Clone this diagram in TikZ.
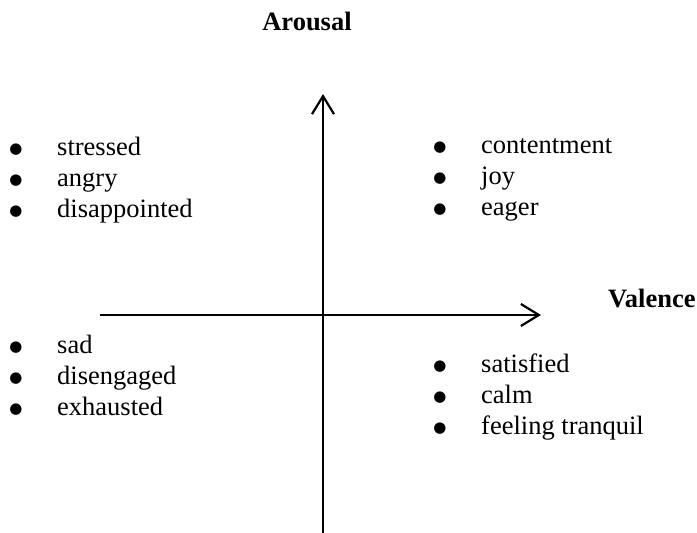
\documentclass[tikz,border=0pt]{standalone}
\usepackage{fontspec}
\setmainfont{Liberation Serif}
\newfontfamily\punktfont{DejaVu Sans}
\usetikzlibrary{arrows.meta}

\tikzset{
    achse/.style={line width=2.2pt, -{Straight Barb[length=18pt, width=22pt, line width=2.2pt]}},
    eintrag/.style={anchor=base west, inner sep=0pt, font=\fontsize{26.5}{31}\selectfont},
    punkt/.style={anchor=base, inner sep=0pt, font=\punktfont\fontsize{15}{15}\selectfont},
    titel/.style={anchor=base, inner sep=0pt, font=\fontsize{26.5}{31}\selectfont\bfseries},
}

\begin{document}
\begin{tikzpicture}[x=1pt, y=-1pt]
    \useasboundingbox (0,0) rectangle (697,533);

    % --- Achsen ---
    \coordinate (links) at (100,315);
    \coordinate (rechts) at (541,315);
    \coordinate (unten) at (323,533);
    \coordinate (oben) at (323,94);
    \draw[achse] (links) -- (rechts);
    \draw[achse] (unten) -- (oben);

    % Achsenbeschriftung
    \node[titel] (arousal) at (307,30) {Arousal};
    \node[titel, anchor=base west] (valence) at (608,307) {Valence};

    % --- Quadranten (Aufzaehlungspunkt links vom Wort) ---
    % oben links
    \foreach \wort [count=\i] in {stressed, angry, disappointed} {
        \node[eintrag] (ol-\i) at (57,124+31*\i) {\wort};
        \node[punkt] (ol-p\i) at (16,122+31*\i) {●};
    }
    % oben rechts
    \foreach \wort [count=\i] in {contentment, joy, eager} {
        \node[eintrag] (or-\i) at (481,122+31*\i) {\wort};
        \node[punkt] (or-p\i) at (440,120+31*\i) {●};
    }
    % unten links
    \foreach \wort [count=\i] in {sad, disengaged, exhausted} {
        \node[eintrag] (ul-\i) at (57,322+31*\i) {\wort};
        \node[punkt] (ul-p\i) at (16,320+31*\i) {●};
    }
    % unten rechts
    \foreach \wort [count=\i] in {satisfied, calm, feeling tranquil} {
        \node[eintrag] (ur-\i) at (481,341+31*\i) {\wort};
        \node[punkt] (ur-p\i) at (440,339+31*\i) {●};
    }

\end{tikzpicture}
\end{document}
